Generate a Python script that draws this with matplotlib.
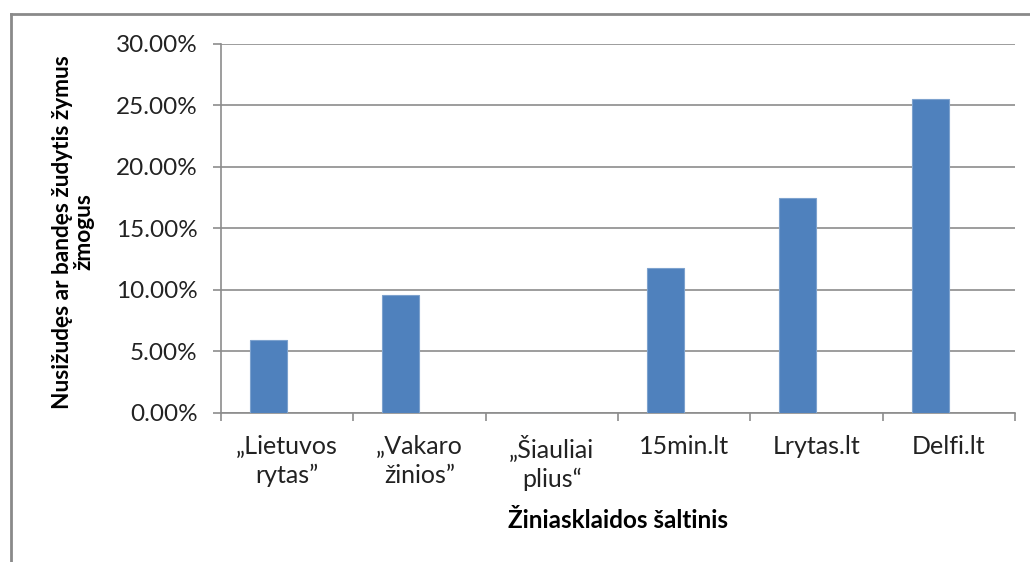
import matplotlib.pyplot as plt
from matplotlib.lines import Line2D
from matplotlib.ticker import FuncFormatter, FixedLocator
import numpy as np

plt.rcParams['font.family'] = ['Lato', 'DejaVu Sans']

categories = ["„Lietuvos\nrytas”", "„Vakaro\nžinios”", "„Šiauliai\nplius“",
              "15min.lt", "Lrytas.lt", "Delfi.lt"]
values = [0.0590, 0.0954, 0.0, 0.1180, 0.1746, 0.2555]
y_ticks = [0.0, 0.05, 0.10, 0.15, 0.20, 0.25, 0.30]

ylabel = "Nusižudęs ar bandęs žudytis žymus\nžmogus"
xlabel = "Žiniasklaidos šaltinis"

bar_color = "#4F81BD"
grid_color = "#8C8C8C"
text_color = "#222222"

W, H = 1030, 562
fig = plt.figure(figsize=(W / 100, H / 100), dpi=100)
ax = fig.add_axes([221 / W, 1 - 412.7 / H, (1015 - 221) / W, (412.7 - 44) / H])

xs = np.arange(len(categories))
w = 0.28
ax.bar(xs - w / 2, values, width=w, color=bar_color,
       edgecolor="#7DA2CE", linewidth=0.8, zorder=3)

ax.set_xlim(-0.5, len(categories) - 0.5)
ax.set_ylim(0, 0.30)
ax.set_yticks(y_ticks)
ax.yaxis.set_major_formatter(FuncFormatter(lambda v, p: f"{v * 100:.2f}%"))
ax.grid(axis="y", color=grid_color, linewidth=1.2, zorder=0)

ax.set_xticks(xs)
ax.set_xticklabels(categories, fontsize=18, color=text_color, linespacing=1.3)
ax.xaxis.set_minor_locator(FixedLocator(np.arange(-0.5, len(categories), 1.0)))
ax.tick_params(axis="x", which="major", length=0, pad=16)
ax.tick_params(axis="x", which="minor", length=6, color=grid_color, width=1.2)
ax.tick_params(axis="y", length=6, color=grid_color, width=1.2, pad=11,
               labelsize=17.5, labelcolor=text_color)

for side in ["top", "right"]:
    ax.spines[side].set_visible(False)
for side in ["left", "bottom"]:
    ax.spines[side].set_color(grid_color)
    ax.spines[side].set_linewidth(1.2)

fig.text(73 / W, 1 - 232 / H, ylabel, rotation=90, ha="center", va="center",
         fontsize=16.3, fontweight="bold", color="black", linespacing=1.0)
fig.text(618 / W, 1 - 521 / H, xlabel, ha="center", va="center",
         fontsize=17.5, fontweight="bold", color="black")

# outer chart border (cropped on the right and bottom)
fig.add_artist(Line2D([11 / W, 11 / W], [0, 1 - 14 / H], transform=fig.transFigure,
                      color="#8A8A8A", linewidth=2))
fig.add_artist(Line2D([11 / W, 1], [1 - 14 / H, 1 - 14 / H], transform=fig.transFigure,
                      color="#8A8A8A", linewidth=2))

plt.savefig("out.png", dpi=100)
